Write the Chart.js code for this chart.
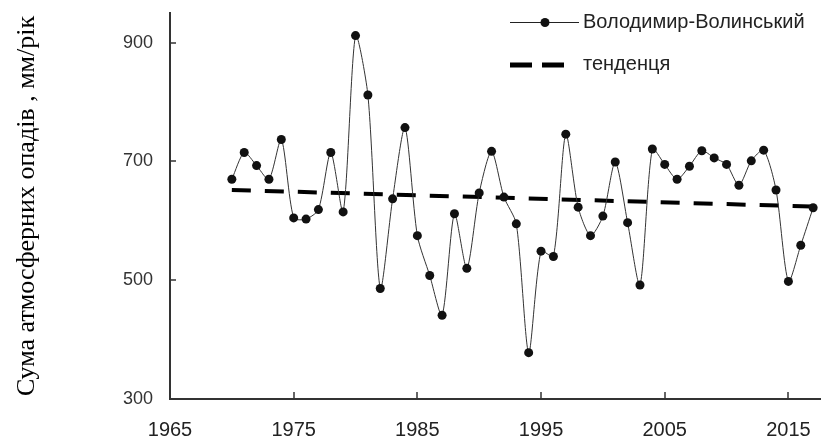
<!DOCTYPE html>
<html>
<head>
<meta charset="utf-8">
<script src="https://cdn.jsdelivr.net/npm/chart.js@4.4.0/dist/chart.umd.min.js"></script>
<style>
  html, body { margin: 0; padding: 0; background: #fff; overflow: hidden; }
  #wrap { position: relative; width: 830px; height: 436px; }
</style>
</head>
<body>
<div id="wrap"><canvas id="my-chart"></canvas></div>
<script>
// annual precipitation, Volodymyr-Volynskyi
const years = [
  1970, 1971, 1972, 1973, 1974, 1975, 1976, 1977, 1978, 1979,
  1980, 1981, 1982, 1983, 1984, 1985, 1986, 1987, 1988, 1989,
  1990, 1991, 1992, 1993, 1994, 1995, 1996, 1997, 1998, 1999,
  2000, 2001, 2002, 2003, 2004, 2005, 2006, 2007, 2008, 2009,
  2010, 2011, 2012, 2013, 2014, 2015, 2016, 2017
];
const precipitation = [
  670, 715, 693, 670, 737, 605, 603, 619, 715, 615,
  912, 812, 486, 637, 757, 575, 508, 441, 612, 520,
  647, 717, 640, 595, 378, 549, 540, 746, 623, 575,
  608, 699, 597, 492, 721, 695, 670, 692, 718, 706,
  695, 660, 701, 719, 652, 498, 559, 622
];
const trendYears = [1970, 2017];
const trendValues = [652, 624];

const xTicks = [1965, 1975, 1985, 1995, 2005, 2015];
const yTicks = [300, 500, 700, 900];

const seriesName = 'Володимир-Волинський';
const trendName = 'тенденця';
const yTitle = 'Сума атмосферних опадів , мм/рік';

const sans = "'Liberation Sans', Arial, sans-serif";
const serif = "'Liberation Serif', 'Times New Roman', serif";

// inward tick marks + legend box in the top right
const decorations = {
  id: 'decorations',
  afterDraw(chart) {
    const { ctx, chartArea, scales: { x, y } } = chart;
    ctx.save();
    ctx.strokeStyle = '#333';
    ctx.lineWidth = 1.5;
    ctx.beginPath();
    yTicks.forEach(v => {
      const py = Math.round(y.getPixelForValue(v));
      ctx.moveTo(chartArea.left, py);
      ctx.lineTo(chartArea.left + 6, py);
    });
    xTicks.forEach(v => {
      const px = Math.round(x.getPixelForValue(v));
      ctx.moveTo(px, chartArea.bottom);
      ctx.lineTo(px, chartArea.bottom - 7);
    });
    ctx.stroke();

    // series entry
    ctx.strokeStyle = '#222';
    ctx.lineWidth = 1;
    ctx.beginPath();
    ctx.moveTo(510, 22.5);
    ctx.lineTo(579, 22.5);
    ctx.stroke();
    ctx.fillStyle = '#111';
    ctx.beginPath();
    ctx.arc(545, 22.5, 4.5, 0, Math.PI * 2);
    ctx.fill();

    // trend entry
    ctx.strokeStyle = '#000';
    ctx.lineWidth = 5;
    ctx.setLineDash([22, 10]);
    ctx.beginPath();
    ctx.moveTo(510, 65);
    ctx.lineTo(564, 65);
    ctx.stroke();
    ctx.setLineDash([]);

    ctx.fillStyle = '#222';
    ctx.font = '20px ' + sans;
    ctx.textBaseline = 'middle';
    ctx.textAlign = 'left';
    ctx.fillText(seriesName, 583, 22);
    ctx.fillText(trendName, 583, 64);
    ctx.restore();
  }
};

const ctx = document.getElementById('my-chart');
const myChart = new Chart(ctx, {
  type: 'line',
  data: {
    datasets: [{
      label: seriesName,
      data: years.map((yr, i) => ({ x: yr, y: precipitation[i] })),
      borderColor: '#333',
      borderWidth: 1,
      pointRadius: 4.5,
      pointBackgroundColor: '#111',
      pointBorderColor: '#111',
      pointBorderWidth: 0,
      tension: 0.25
    }, {
      label: trendName,
      data: trendYears.map((yr, i) => ({ x: yr, y: trendValues[i] })),
      borderColor: '#000',
      borderWidth: 4,
      borderDash: [19, 14],
      pointRadius: 0
    }]
  },
  plugins: [decorations],
  options: {
    responsive: true,
    maintainAspectRatio: false,
    animation: false,
    layout: { padding: { top: 13, left: 0, right: 0, bottom: 0 } },
    plugins: { legend: { display: false }, tooltip: { enabled: false } },
    scales: {
      x: {
        type: 'linear',
        min: 1965,
        max: 2018,
        afterBuildTicks: ax => { ax.ticks = xTicks.map(v => ({ value: v })); },
        afterFit: ax => {
          ax.height = 37;
          ax.paddingLeft = 0;
          ax.paddingRight = 0;
        },
        grid: { display: false, drawTicks: false },
        border: { display: true, color: '#333', width: 2 },
        ticks: {
          padding: 19,
          color: '#222',
          font: { family: sans, size: 20 },
          maxRotation: 0,
          callback: v => String(v)
        }
      },
      y: {
        min: 300,
        max: 950,
        afterBuildTicks: ax => { ax.ticks = yTicks.map(v => ({ value: v })); },
        afterFit: ax => {
          ax.width = 170;
          ax.paddingTop = 0;
          ax.paddingBottom = 0;
        },
        grid: { display: false, drawTicks: false },
        border: { display: true, color: '#333', width: 2 },
        ticks: {
          padding: 17,
          color: '#333',
          font: { family: sans, size: 18 }
        },
        title: {
          display: true,
          text: yTitle,
          color: '#000',
          font: { family: serif, size: 26 },
          padding: { top: 12, bottom: 0 }
        }
      }
    }
  }
});
</script>
</body>
</html>
